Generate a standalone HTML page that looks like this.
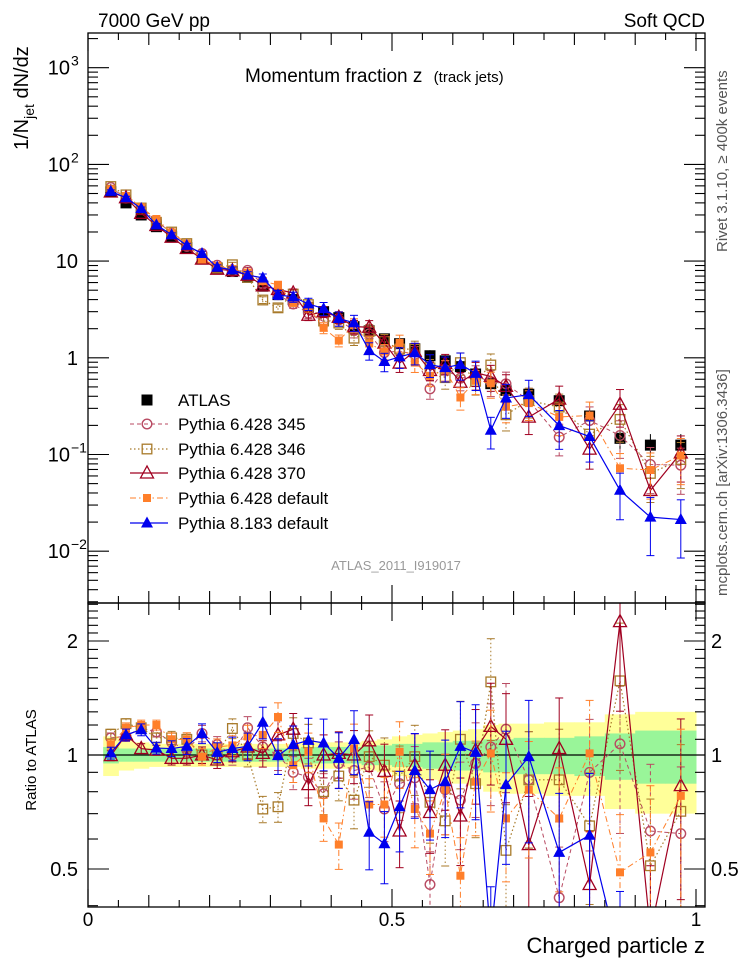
<!DOCTYPE html>
<html><head><meta charset="utf-8"><style>
html,body{margin:0;padding:0;background:#fff;width:746px;height:972px;overflow:hidden;}
svg{display:block;font-family:"Liberation Sans",sans-serif;}
</style></head><body>
<svg id="chart" width="746" height="972" viewBox="0 0 746 972" xmlns="http://www.w3.org/2000/svg">
<defs>
<clipPath id="clipMain"><rect x="88" y="33" width="617" height="570"/></clipPath>
<clipPath id="clipRatio"><rect x="88" y="603" width="617" height="304"/></clipPath>
</defs>
<g id="bands" clip-path="url(#clipRatio)"></g>
<line x1="88" y1="755" x2="705" y2="755" stroke="#000" stroke-width="1.2"/>
<g id="ratioSeries" clip-path="url(#clipRatio)"></g>
<g id="mainSeries" clip-path="url(#clipMain)"></g>
<g id="axes"></g>
<rect x="88" y="33" width="617" height="570" fill="none" stroke="#000" stroke-width="1.3"/>
<rect x="88" y="603" width="617" height="304" fill="none" stroke="#000" stroke-width="1.3"/>
<text x="98" y="27" font-size="19">7000 GeV pp</text>
<text x="705" y="27" font-size="19" text-anchor="end">Soft QCD</text>
<text x="245" y="82" font-size="19">Momentum fraction z <tspan font-size="15" dx="6">(track jets)</tspan></text>
<text x="396" y="570" font-size="13" fill="#999" text-anchor="middle">ATLAS_2011_I919017</text>
<text transform="translate(28,150) rotate(-90)" font-size="20">1/N<tspan font-size="14" dy="6">jet</tspan><tspan dy="-6"> dN/dz</tspan></text>
<text transform="translate(36,760) rotate(-90)" font-size="15" text-anchor="middle">Ratio to ATLAS</text>
<text x="705" y="953" font-size="22" text-anchor="end">Charged particle z</text>
<text transform="translate(727,252) rotate(-90)" font-size="15" fill="#555">Rivet 3.1.10, ≥ 400k events</text>
<text transform="translate(727,596) rotate(-90)" font-size="15" fill="#555">mcplots.cern.ch [arXiv:1306.3436]</text>
<g id="legend"></g>
</svg>
<script>
const binEdges = [0.025,0.05,0.075,0.1,0.125,0.15,0.175,0.2,0.225,0.25,0.275,0.3,0.325,0.35,0.375,0.4,0.425,0.45,0.475,0.5,0.525,0.55,0.575,0.6,0.625,0.65,0.675,0.7,0.75,0.8,0.85,0.9,0.95,1.0];
const atlasValues = [52,40,30,22.7,18,13.8,10.5,8.5,7.8,6.8,5.5,4.5,4.0,3.3,3.0,2.6,2.1,1.9,1.57,1.4,1.24,1.05,0.93,0.81,0.68,0.54,0.46,0.42,0.36,0.25,0.147,0.125,0.125];
const atlasStatErr = [0.05,0.04,0.04,0.04,0.04,0.04,0.04,0.04,0.04,0.04,0.04,0.04,0.04,0.05,0.05,0.05,0.05,0.06,0.06,0.07,0.07,0.08,0.08,0.09,0.09,0.1,0.1,0.11,0.11,0.12,0.14,0.16,0.16];
const atlasTotErr = [0.12,0.09,0.08,0.07,0.07,0.07,0.07,0.07,0.07,0.07,0.07,0.07,0.07,0.08,0.08,0.08,0.08,0.09,0.1,0.12,0.13,0.14,0.15,0.16,0.17,0.2,0.21,0.21,0.22,0.22,0.28,0.3,0.3];
const ratio345 = [1.11,1.12,1.18,1.15,1.08,1.03,1.14,1.065,1.0,1.18,1.05,1.0,0.9,0.875,0.79,0.95,0.91,0.93,0.72,0.84,0.87,0.455,0.81,0.76,0.95,1.05,1.17,0.86,0.42,0.9,1.07,0.63,0.62];
const ratio346 = [1.135,1.21,1.18,1.11,1.11,1.1,1.0,1.0,1.175,1.0,0.72,0.73,1.14,1.076,0.8,0.88,0.76,0.99,0.94,0.88,0.99,0.75,0.67,1.1,0.84,1.56,0.56,0.86,0.86,0.65,1.57,0.51,0.71];
const ratio370 = [0.996,1.13,1.04,1.03,0.98,0.98,1.0,0.97,1.02,1.05,1.01,1.13,1.17,0.835,1.0,1.01,1.0,1.09,0.905,0.63,0.94,0.705,0.94,0.69,1.03,1.19,1.1,0.58,1.04,0.455,2.25,0.34,0.83];
const ratioP6def = [1.065,1.18,1.2,1.2,1.1,1.1,0.99,1.05,1.06,1.12,1.13,1.26,0.94,1.02,0.68,0.58,1.04,0.74,0.74,1.02,0.72,0.62,0.81,0.48,0.85,1.01,0.68,0.81,0.68,1.01,0.49,0.553,0.78];
const ratioP8def = [1.012,1.13,1.166,1.043,1.04,1.054,1.14,1.016,1.04,1.054,1.22,0.996,1.065,1.093,1.076,0.98,1.098,0.625,0.583,0.73,0.91,0.81,0.85,1.054,1.016,0.33,0.835,0.99,0.553,0.614,0.29,0.18,0.17];
const mcRelErr = [0.03,0.03,0.03,0.03,0.04,0.04,0.05,0.05,0.06,0.07,0.08,0.09,0.1,0.12,0.13,0.14,0.16,0.17,0.18,0.2,0.21,0.22,0.24,0.26,0.28,0.3,0.32,0.34,0.36,0.38,0.42,0.5,0.5];
const xTickLabels = ["0","0.5","1"];
const xTickValues = [0,0.5,1];
const ratioTickLabels = ["0.5","1","2"];
const ratioTickValues = [0.5,1,2];

const NS = "http://www.w3.org/2000/svg";
const clampY = y => Math.max(0, Math.min(970, y));
const xPx = z => 88 + 608*z;
const yMain = v => clampY(67.7 + (3 - Math.log10(v))*96.7);
const yRatio = r => clampY(755 - 114*Math.log2(r));
function mk(tag, attrs, parent){const e=document.createElementNS(NS,tag);for(const k in attrs)e.setAttribute(k,attrs[k]);parent.appendChild(e);return e;}
const centers = atlasValues.map((_,i)=>(binEdges[i]+binEdges[i+1])/2);

const bands = document.getElementById('bands');
atlasTotErr.forEach((e,i)=>{
  const x0=xPx(binEdges[i]), x1=xPx(binEdges[i+1]);
  const r=mk('rect',{x:x0,y:yRatio(1+e),width:x1-x0+0.5,height:yRatio(1-e)-yRatio(1+e),fill:'#ffff99'},bands);
  
  
});
atlasStatErr.forEach((e,i)=>{
  const x0=xPx(binEdges[i]), x1=xPx(binEdges[i+1]);
  const r=mk('rect',{x:x0,y:yRatio(1+e),width:x1-x0+0.5,height:yRatio(1-e)-yRatio(1+e),fill:'#99f599'},bands);
  
  
});

function marker(g,type,color,x,y){
  let m;
  if(type==='circle') m=mk('circle',{cx:x,cy:y,r:4.8,fill:'none',stroke:color,'stroke-width':1.4},g);
  else if(type==='osquare') m=mk('rect',{x:x-4.8,y:y-4.8,width:9.6,height:9.6,fill:'none',stroke:color,'stroke-width':1.3},g);
  else if(type==='otri') m=mk('polygon',{points:`${x},${y-7} ${x-6.5},${y+5} ${x+6.5},${y+5}`,fill:'none',stroke:color,'stroke-width':1.3},g);
  else if(type==='fsquare') m=mk('rect',{x:x-4,y:y-4,width:8,height:8,fill:color},g);
  else if(type==='ftri') m=mk('polygon',{points:`${x},${y-6.5} ${x-6},${y+4.5} ${x+6},${y+4.5}`,fill:color},g);
  else if(type==='atlas') m=mk('rect',{x:x-5.5,y:y-5.5,width:11,height:11,fill:color},g);
  return m;
}

const series = [
  {name:'pythia-6428-345',label:'Pythia 6.428 345',ratio:ratio345,color:'#b84a62',dash:'4,3',m:'circle',w:1},
  {name:'pythia-6428-346',label:'Pythia 6.428 346',ratio:ratio346,color:'#a87a2a',dash:'1.5,2.5',m:'osquare',w:1.2},
  {name:'pythia-6428-370',label:'Pythia 6.428 370',ratio:ratio370,color:'#a00020',dash:'',m:'otri',w:1.2},
  {name:'pythia-6428-default',label:'Pythia 6.428 default',ratio:ratioP6def,color:'#ff7f2a',dash:'6,3,1.5,3',m:'fsquare',w:1},
  {name:'pythia-8183-default',label:'Pythia 8.183 default',ratio:ratioP8def,color:'#0000ee',dash:'',m:'ftri',w:1.2}
];

const mainG=document.getElementById('mainSeries');
const ratioG=document.getElementById('ratioSeries');

const ag=mk('g',{},mainG);


atlasValues.forEach((v,i)=>{
  const x=xPx(centers[i]);
  mk('line',{x1:x,x2:x,y1:yMain(v*(1+atlasTotErr[i])),y2:yMain(v*(1-atlasTotErr[i])),stroke:'#000','stroke-width':1},ag);
  const p=marker(ag,'atlas','#000',x,yMain(v));
  
  
});

function drawSeries(parent,s,yf,valf){
  const g=mk('g',{},parent);
  
  
  const pts=s.ratio.map((r,i)=>`${xPx(centers[i])},${yf(valf(r,i))}`).join(' ');
  const attrs={points:pts,fill:'none',stroke:s.color,'stroke-width':s.w};
  if(s.dash) attrs['stroke-dasharray']=s.dash;
  mk('polyline',attrs,g);
  s.ratio.forEach((r,i)=>{
    const x=xPx(centers[i]), v=valf(r,i), e=mcRelErr[i]*(s.m==='ftri'?1.2:1);
    const ya=yf(v*(1+e)), yb=yf(Math.max(v*(1-e),1e-4));
    const ea={stroke:s.color,'stroke-width':1};
    if(s.dash) ea['stroke-dasharray']=s.dash;
    mk('line',Object.assign({x1:x,x2:x,y1:ya,y2:yb},ea),g);
    mk('line',{x1:x-4,x2:x+4,y1:ya,y2:ya,stroke:s.color,'stroke-width':1},g);
    mk('line',{x1:x-4,x2:x+4,y1:yb,y2:yb,stroke:s.color,'stroke-width':1},g);
    const p=marker(g,s.m,s.color,x,yf(v));
    
    
  });
}
series.forEach(s=>{
  drawSeries(mainG,s,yMain,(r,i)=>r*atlasValues[i]);
  drawSeries(ratioG,s,yRatio,(r,i)=>r);
});

const ax=document.getElementById('axes');
function tick(x1,y1,x2,y2){mk('line',{x1,y1,x2,y2,stroke:'#000','stroke-width':1.1},ax);}
for(let k=0;k<=20;k++){
  const z=k*0.05, x=xPx(z); if(x>705)break;
  const major = Math.abs(z-0.5)<1e-6||k===0||k===20;
  const len = major?18:(k%2===0?12:7);
  tick(x,907,x,907-len); tick(x,603,x,603-len); tick(x,603,x,603+len); tick(x,33,x,33+len);
}
xTickValues.forEach((v,i)=>{
  const t=mk('text',{x:xPx(v),y:926,'font-size':19,'text-anchor':'middle'},ax);
  t.textContent=xTickLabels[i];
  
  
});
for(let d=-3;d<=3;d++){
  for(let m=1;m<=9;m++){
    const v=m*Math.pow(10,d), y=67.7 + (3 - Math.log10(v))*96.7;
    if(y<33||y>603)continue;
    const len=m===1?21:10;
    tick(88,y,88+len,y); tick(705,y,705-len,y);
  }
}
const mainLabels=[[3,'10','3'],[2,'10','2'],[1,'10',''],[0,'1',''],[-1,'10','−1'],[-2,'10','−2']];
mainLabels.forEach(([d,b,s])=>{
  const y=yMain(Math.pow(10,d))+7;
  const t=mk('text',{x:s?70:78,y:y,'font-size':20,'text-anchor':'end'},ax);
  t.textContent=b;
  
  
  if(s){const sp=mk('text',{x:71,y:y-9,'font-size':14},ax);sp.textContent=s;
    
    }
});
for(let k=4;k<=25;k++){
  const r=k/10, y=755 - 114*Math.log2(r); if(y<603||y>907)continue;
  const major=(k===5||k===10||k===20);
  const len=major?21:10;
  tick(88,y,88+len,y); tick(705,y,705-len,y);
}
ratioTickValues.forEach((v,i)=>{
  const y=yRatio(v)+7;
  const t=mk('text',{x:78,y,'font-size':20,'text-anchor':'end'},ax);
  t.textContent=ratioTickLabels[i];
  
  
  const t2=mk('text',{x:711,y,'font-size':20},ax);
  t2.textContent=ratioTickLabels[i];
  
  
});

const lg=document.getElementById('legend');
const rowsY=[400,424,449,473,498,523];
const le=mk('g',{},lg);


marker(le,'atlas','#000',147,rowsY[0]);
const lt=mk('text',{x:178,y:rowsY[0]+6,'font-size':17},le); lt.textContent='ATLAS';
series.forEach((s,i)=>{
  const y=rowsY[i+1];
  const g=mk('g',{},lg);
  
  
  const a={x1:130,x2:168,y1:y,y2:y,stroke:s.color,'stroke-width':s.w};
  if(s.dash)a['stroke-dasharray']=s.dash;
  mk('line',a,g);
  marker(g,s.m,s.color,147,y);
  const t=mk('text',{x:178,y:y+6,'font-size':17},g); t.textContent=s.label;
});
</script>
</body></html>
